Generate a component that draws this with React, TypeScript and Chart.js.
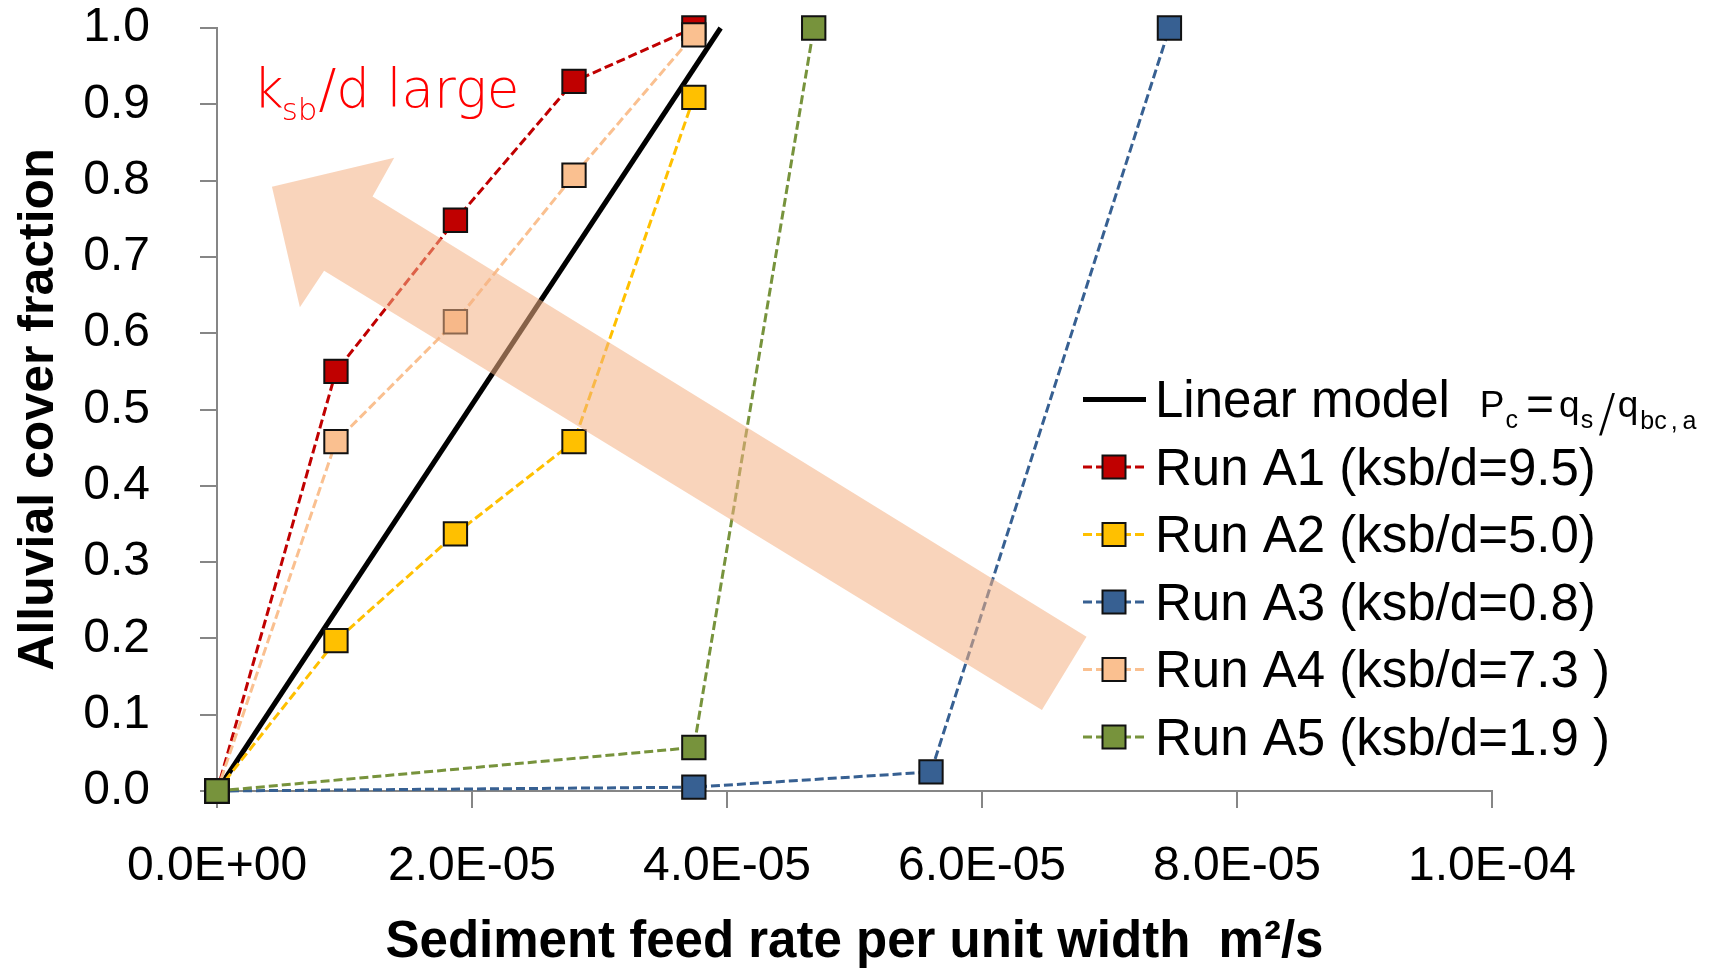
import React, { useEffect, useRef } from "react";
import { Chart, registerables } from "chart.js";

Chart.register(...registerables);

// ---------- data ----------
const seriesNames = [
  "Run A1 (ksb/d=9.5)",
  "Run A2 (ksb/d=5.0)",
  "Run A3 (ksb/d=0.8)",
  "Run A4 (ksb/d=7.3 )",
  "Run A5 (ksb/d=1.9 )",
];
const linearLabel = "Linear model";

const linearX = [0, 3.95e-5];
const linearY = [0, 1.0];

const runA1X = [0, 9.33e-6, 1.87e-5, 2.8e-5, 3.74e-5];
const runA1Y = [0, 0.55, 0.748, 0.93, 1.0];

const runA2X = [0, 9.33e-6, 1.87e-5, 2.8e-5, 3.74e-5];
const runA2Y = [0, 0.197, 0.337, 0.458, 0.909];

const runA3X = [0, 3.74e-5, 5.6e-5, 7.47e-5];
const runA3Y = [0, 0.005, 0.025, 1.0];

const runA4X = [0, 9.33e-6, 1.87e-5, 2.8e-5, 3.74e-5];
const runA4Y = [0, 0.458, 0.615, 0.807, 0.991];

const runA5X = [0, 3.74e-5, 4.68e-5];
const runA5Y = [0, 0.057, 1.0];

const xTicks = [0, 2e-5, 4e-5, 6e-5, 8e-5, 1e-4];
const yTicks = [0, 0.1, 0.2, 0.3, 0.4, 0.5, 0.6, 0.7, 0.8, 0.9, 1.0];

const xTitle = "Sediment feed rate per unit width  m\u00B2/s";
const yTitle = "Alluvial cover fraction";

// ---------- styles ----------
const seriesColors = ["#C00000", "#FFC000", "#376092", "#FAC090", "#77933C"];
const FONT = "'Liberation Sans', Arial, sans-serif";
const AXIS_GRAY = "#868686";

function sci(v: number): string {
  if (Math.abs(v) < 1e-15) return "0.0E+00";
  const e = Math.floor(Math.log10(Math.abs(v)) + 1e-9);
  const m = v / Math.pow(10, e);
  return m.toFixed(1) + "E" + (e < 0 ? "-" : "+") + String(Math.abs(e)).padStart(2, "0");
}

const pairs = (xs: number[], ys: number[]) => xs.map((x, i) => ({ x, y: ys[i] }));

// arrow annotation geometry, in data coordinates
const arrowShape: [number, number][] = [
  [4.31e-6, 0.792],
  [13.9e-6, 0.83],
  [12.2e-6, 0.779],
  [68.2e-6, 0.202],
  [64.7e-6, 0.106],
  [8.4e-6, 0.682],
  [6.5e-6, 0.634],
];

const overlayPlugin = {
  id: "overlay",
  afterDatasetsDraw(chart: any) {
    const { ctx, scales, chartArea } = chart;
    const px = (v: number) => scales.x.getPixelForValue(v);
    const py = (v: number) => scales.y.getPixelForValue(v);
    ctx.save();

    // big translucent arrow
    ctx.beginPath();
    arrowShape.forEach(([x, y], i) => {
      if (i === 0) ctx.moveTo(px(x), py(y));
      else ctx.lineTo(px(x), py(y));
    });
    ctx.closePath();
    ctx.fillStyle = "rgba(244,177,131,0.55)";
    ctx.fill();

    // "k_sb/d large"
    {
      let x = px(2.82e-6);
      const base = py(0.896);
      ctx.fillStyle = "#FF0000";
      ctx.textAlign = "left";
      ctx.textBaseline = "alphabetic";
      ctx.font = "200 53px 'DejaVu Sans', sans-serif";
      ctx.fillText("k", x, base);
      x += ctx.measureText("k").width - 2;
      ctx.font = "200 31px 'DejaVu Sans', sans-serif";
      ctx.fillText("sb", x, base + 13);
      x += ctx.measureText("sb").width + 1;
      ctx.font = "200 53px 'DejaVu Sans', sans-serif";
      ctx.fillText("/d large", x, base);
    }

    // legend
    const items = chart.data.datasets;
    const symLeft = chartArea.left + 866;
    const symRight = symLeft + 63;
    const symMid = symLeft + 31;
    const textX = symLeft + 72;
    const base0 = chartArea.top + 389;
    const step = 67.5;
    items.forEach((ds: any, i: number) => {
      const baseY = base0 + i * step;
      const cy = baseY - 17.5;
      ctx.save();
      ctx.strokeStyle = ds.borderColor;
      ctx.lineWidth = ds.borderWidth;
      ctx.setLineDash(ds.borderDash || []);
      ctx.beginPath();
      ctx.moveTo(symLeft, cy);
      ctx.lineTo(symRight, cy);
      ctx.stroke();
      ctx.setLineDash([]);
      if (ds.pointRadius > 0) {
        const s = 23;
        ctx.fillStyle = ds.pointBackgroundColor;
        ctx.fillRect(symMid - s / 2, cy - s / 2, s, s);
        ctx.strokeStyle = ds.pointBorderColor;
        ctx.lineWidth = 2;
        ctx.strokeRect(symMid - s / 2, cy - s / 2, s, s);
      }
      ctx.restore();
      ctx.fillStyle = "#000";
      ctx.textAlign = "left";
      ctx.textBaseline = "alphabetic";
      ctx.font = `51px ${FONT}`;
      ctx.fillText(ds.label, textX, baseY);
      if (i === 0) {
        // formula  P_c = q_s / q_bc,a
        let fx = textX + ctx.measureText(ds.label).width + 30;
        const big = `37px ${FONT}`;
        const sub = `25px ${FONT}`;
        ctx.font = big;
        ctx.fillText("P", fx, baseY);
        fx += ctx.measureText("P").width + 1;
        ctx.font = sub;
        ctx.fillText("c", fx, baseY + 11);
        fx += ctx.measureText("c").width + 8;
        ctx.font = `48px ${FONT}`;
        ctx.fillText("=", fx, baseY + 3);
        fx += ctx.measureText("=").width + 5;
        ctx.font = big;
        ctx.fillText("q", fx, baseY);
        fx += ctx.measureText("q").width + 1;
        ctx.font = sub;
        ctx.fillText("s", fx, baseY + 11);
        fx += ctx.measureText("s").width + 5;
        ctx.font = `200 52px 'DejaVu Sans', sans-serif`;
        ctx.fillText("/", fx, baseY + 14);
        fx += ctx.measureText("/").width + 2;
        ctx.font = big;
        ctx.fillText("q", fx, baseY);
        fx += ctx.measureText("q").width + 2;
        ctx.font = sub;
        ctx.fillText("bc", fx, baseY + 12);
        fx += ctx.measureText("bc").width + 4;
        ctx.fillText(",", fx, baseY + 12);
        fx += ctx.measureText(",").width + 5;
        ctx.fillText("a", fx, baseY + 12);
      }
    });
    ctx.restore();
  },
};

function runDataset(label: string, xs: number[], ys: number[], color: string, order: number) {
  return {
    label,
    data: pairs(xs, ys),
    borderColor: color,
    backgroundColor: color,
    borderWidth: 3,
    borderDash: [9, 4],
    pointStyle: "rect",
    pointRadius: 16.5,
    pointHoverRadius: 16.5,
    pointBackgroundColor: color,
    pointBorderColor: "#111111",
    pointBorderWidth: 2,
    tension: 0,
    clip: false,
    order,
  };
}

export default function App() {
  const ref = useRef<HTMLCanvasElement | null>(null);

  useEffect(() => {
    if (!ref.current) return;
    const datasets: any[] = [
      {
        label: linearLabel,
        data: pairs(linearX, linearY),
        borderColor: "#000000",
        backgroundColor: "#000000",
        borderWidth: 5,
        pointRadius: 0,
        tension: 0,
        clip: false,
        order: 10,
      },
      runDataset(seriesNames[0], runA1X, runA1Y, seriesColors[0], 5),
      runDataset(seriesNames[1], runA2X, runA2Y, seriesColors[1], 4),
      runDataset(seriesNames[2], runA3X, runA3Y, seriesColors[2], 3),
      runDataset(seriesNames[3], runA4X, runA4Y, seriesColors[3], 2),
      runDataset(seriesNames[4], runA5X, runA5Y, seriesColors[4], 1),
    ];
    const chart = new Chart(ref.current, {
      type: "line",
      data: { datasets },
      plugins: [overlayPlugin],
      options: {
        animation: false,
        responsive: true,
        maintainAspectRatio: false,
        devicePixelRatio: 1,
        events: [],
        layout: { padding: { left: 0, top: 28, right: 242, bottom: 0 } },
        plugins: { legend: { display: false }, tooltip: { enabled: false } },
        scales: {
          x: {
            type: "linear",
            min: 0,
            max: 1e-4,
            afterBuildTicks: (s: any) => {
              s.ticks = xTicks.map((v) => ({ value: v }));
            },
            afterFit: (s: any) => {
              s.height = 177;
              s.paddingLeft = 0;
              s.paddingRight = 0;
            },
            grid: {
              display: true,
              drawOnChartArea: false,
              drawTicks: true,
              tickLength: 17,
              color: AXIS_GRAY,
              lineWidth: 2,
            },
            border: { display: true, color: AXIS_GRAY, width: 2 },
            ticks: {
              color: "#000",
              font: { family: FONT, size: 48 },
              padding: 30,
              maxRotation: 0,
              autoSkip: false,
              callback: (v: any) => sci(Number(v)),
            },
            title: {
              display: true,
              text: xTitle,
              color: "#000",
              font: { family: FONT, size: 51, weight: "bold", lineHeight: 1 },
              padding: { top: 0, bottom: 0 },
            },
          },
          y: {
            type: "linear",
            min: 0,
            max: 1,
            afterBuildTicks: (s: any) => {
              s.ticks = yTicks.map((v) => ({ value: v }));
            },
            afterFit: (s: any) => {
              s.width = 217;
              s.paddingTop = 0;
              s.paddingBottom = 0;
            },
            grid: {
              display: true,
              drawOnChartArea: false,
              drawTicks: true,
              tickLength: 17,
              color: AXIS_GRAY,
              lineWidth: 2,
            },
            border: { display: true, color: AXIS_GRAY, width: 2 },
            ticks: {
              color: "#000",
              font: { family: FONT, size: 48 },
              padding: 50,
              autoSkip: false,
              callback: (v: any) => Number(v).toFixed(1),
            },
            title: {
              display: true,
              text: yTitle,
              color: "#000",
              font: { family: FONT, size: 50, weight: "bold", lineHeight: 1 },
              padding: { top: 14, bottom: 0 },
            },
          },
        },
      },
    } as any);
    return () => chart.destroy();
  }, []);

  return (
    <div
      style={{
        position: "absolute",
        left: 0,
        top: 0,
        width: 1734,
        height: 968,
        background: "#ffffff",
      }}
    >
      <canvas ref={ref} />
    </div>
  );
}
